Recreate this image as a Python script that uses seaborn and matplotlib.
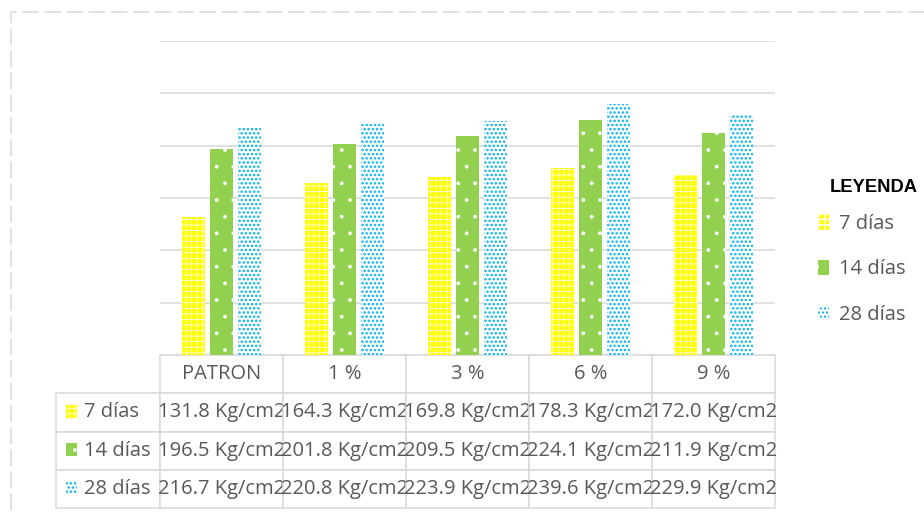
import matplotlib
matplotlib.use("Agg")
import matplotlib.pyplot as plt
from matplotlib.patches import Rectangle
import pandas as pd
import seaborn as sns

categorias = ['PATRON', '1 %', '3 %', '6 %', '9 %']
series = ['7 días', '14 días', '28 días']
dias_7 = [131.8, 164.3, 169.8, 178.3, 172.0]
dias_14 = [196.5, 201.8, 209.5, 224.1, 211.9]
dias_28 = [216.7, 220.8, 223.9, 239.6, 229.9]

colores = ['#FFFF00', '#92D050', '#00B0F0']
# (relleno, color trama, trama, grosor trama)
tramas = [
    ('#FFFF00', 'white', '+++', 0.5),
    ('#92D050', 'white', '.', 0.3),
    ('white', '#00B0F0', '....', 1.2),
]

df = pd.DataFrame({
    'categoria': categorias * 3,
    'serie': [s for s in series for _ in categorias],
    'valor': dias_7 + dias_14 + dias_28,
})

sns.set_theme(style='white')
plt.rcParams['font.family'] = ['Open Sans', 'DejaVu Sans']

fig = plt.figure(figsize=(9.24, 5.14), dpi=100)
ax = fig.add_axes([160 / 924, 1 - 355 / 514, 615 / 924, 314 / 514])

sns.barplot(data=df, x='categoria', y='valor', hue='serie', order=categorias,
            hue_order=series, palette=colores, width=0.683, gap=0.2,
            legend=False, ax=ax)


def aplicar_trama(p, i):
    relleno, ctrama, trama, lw = tramas[i]
    p.set_facecolor(relleno)
    p.set_edgecolor(ctrama)
    p.set_linewidth(0)
    p.set_hatch(trama)
    if hasattr(p, 'set_hatch_linewidth'):
        p.set_hatch_linewidth(lw)


for i, cont in enumerate(ax.containers):
    for p in cont:
        aplicar_trama(p, i)

ax.set_ylim(0, 300)
ax.set_yticks(range(0, 301, 50))
ax.yaxis.grid(True, color='#D9D9D9', linewidth=1.1)
ax.set_axisbelow(True)
ax.set_yticklabels([])
ax.tick_params(left=False, bottom=False)
ax.set_xticklabels([])
ax.set_xlabel('')
ax.set_ylabel('')
for s in ax.spines.values():
    s.set_visible(False)

# tabla de datos (bbox = celdas de datos; la columna de etiquetas queda a la izquierda)
texto = [[f'{v:.1f} Kg/cm2' for v in fila] for fila in (dias_7, dias_14, dias_28)]
tabla = ax.table(cellText=texto, rowLabels=series, colLabels=categorias,
                 colWidths=[0.2] * 5,
                 rowLoc='left', cellLoc='center',
                 bbox=[0, -153 / 314, 1, 153 / 314])
tabla._autoColumns = [c for c in tabla._autoColumns if c != -1]
tabla.auto_set_font_size(False)
tabla.set_fontsize(14.5)
for (r, c), cell in tabla.get_celld().items():
    cell.set_edgecolor('#D9D9D9')
    cell.set_linewidth(1.1)
    cell.get_text().set_color('#595959')
    if c == -1:
        cell.set_width(0.2 * 104 / 123)
        cell.PAD = 0.27

# claves de leyenda dentro de la tabla
for i in range(3):
    y_c = -(38 * (i + 1) + 19) / 314
    key = Rectangle((-94 / 615, y_c - 6 / 314), 11 / 615, 13 / 314,
                    transform=ax.transAxes, clip_on=False)
    aplicar_trama(key, i)
    ax.add_patch(key)

# leyenda
handles = []
for i in range(3):
    h = Rectangle((0, 0), 1, 1)
    aplicar_trama(h, i)
    handles.append(h)
leg = fig.legend(handles, series, loc='upper left',
                 bbox_to_anchor=(818 / 924, 1 - 214 / 514), frameon=False,
                 fontsize=14.5, labelcolor='#595959',
                 handlelength=0.55, handleheight=0.8, handletextpad=0.5,
                 labelspacing=1.26, borderaxespad=0, borderpad=0)
fig.text(830 / 924, 1 - 188 / 514, 'LEYENDA', family='Liberation Sans',
         weight='bold', fontsize=13.2, color='black', va='center', ha='left')

# borde punteado exterior
fig.patches.append(Rectangle((11 / 924, -0.2), 2, 1.2 - 12 / 514,
                             transform=fig.transFigure, fill=False,
                             edgecolor='#D9D9D9', linewidth=1.1,
                             linestyle=(0, (11, 3.5))))

fig.savefig('out.png', dpi=100)
